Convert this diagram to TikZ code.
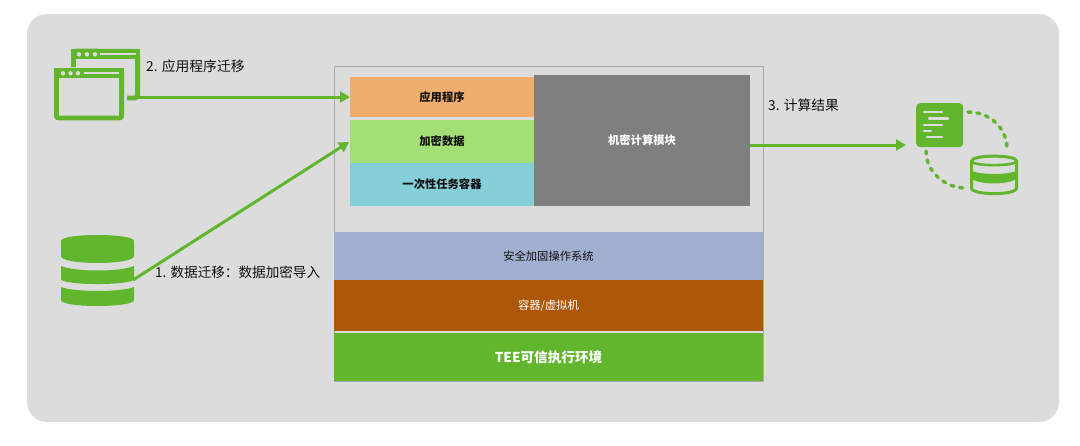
\documentclass[tikz,border=0pt]{standalone}
\usepackage{fontspec}
\setmainfont{Noto Sans CJK SC}
\usetikzlibrary{arrows.meta}
\definecolor{panel}{HTML}{DCDCDC}
\definecolor{grn}{HTML}{62B62E}
\definecolor{frameg}{HTML}{ABABAB}
\definecolor{orng}{HTML}{F0AD6E}
\definecolor{lgrn}{HTML}{A3DF77}
\definecolor{cyanb}{HTML}{85CFD8}
\definecolor{midg}{HTML}{7F7F7F}
\definecolor{slate}{HTML}{A1AFD0}
\definecolor{brwn}{HTML}{AD5709}
\definecolor{txt}{HTML}{111111}
\tikzset{
  layerbox/.style={anchor=north west,inner sep=0pt,outer sep=0pt,minimum width=#1},
  lbl/.style={font=\fontsize{11.3}{13}\selectfont,text=txt,inner sep=0pt},
  captxt/.style={font=\fontsize{13.8}{16}\selectfont,text=txt,inner sep=0pt,anchor=west},
  flow/.style={draw=grn,line width=3pt,-{Triangle[length=10pt,width=11pt]}},
  iconline/.style={draw=grn,line width=4.8pt,line join=round},
  dashy/.style={draw=grn,line width=3.5pt,line cap=round,dash pattern=on 3pt off 6pt},
  stripe/.style={draw=panel,line width=2.4pt,line cap=round}
}
\newcommand{\shifted}[2]{\raisebox{#1}[0pt][0pt]{#2}}
\begin{document}
\begin{tikzpicture}[x=1pt,y=-1pt]
\useasboundingbox (0,0) rectangle (1080,445);
\fill[white] (0,0) rectangle (1080,445);
\fill[panel,rounded corners=20pt] (27,14) rectangle (1059,422);
% frame
\node[draw=frameg,line width=1.1pt,anchor=north west,inner sep=0pt,minimum width=429pt,minimum height=315pt] (frame) at (334,66) {};
% inner stack
\node[fill=orng,layerbox=184pt,minimum height=40pt,lbl] (app) at (350,77) {\bfseries 应用程序};
\node[fill=lgrn,layerbox=184pt,minimum height=43pt,lbl] (data) at (350,120) {\bfseries 加密数据};
\node[fill=cyanb,layerbox=184pt,minimum height=43pt,lbl] (cont) at (350,163) {\bfseries 一次性任务容器};
\node[fill=midg,layerbox=216pt,minimum height=131pt,lbl,text=white] (conf) at (534,75) {\bfseries 机密计算模块};
% lower layers
\node[fill=slate,layerbox=429pt,minimum height=48pt,lbl] (os) at (334,232) {安全加固操作系统};
\node[fill=brwn,layerbox=429pt,minimum height=51pt,lbl,text=white] (vm) at (334,280) {容器/虚拟机};
\node[fill=grn,layerbox=429pt,minimum height=48pt,font=\fontsize{13.6}{16}\selectfont,text=white] (tee) at (334,333) {\bfseries TEE可信执行环境};
% windows icon
\draw[iconline] (73.4,67) -- (73.4,54) arc[start angle=180,end angle=90,radius=3pt] -- (134.6,51.4) arc[start angle=90,end angle=0,radius=3pt] -- (137.6,95) arc[start angle=0,end angle=-90,radius=3pt] -- (127,98);
\draw[iconline,rounded corners=2pt] (56.4,70.4) rectangle (121.6,118);
\fill[grn] (54,68) rectangle (124,78);
\fill[panel] (63,73.3) circle (2.2pt) (70.5,73.3) circle (2.2pt) (78,73.3) circle (2.2pt);
\fill[panel] (84,72.3) rectangle (119,74.3);
\fill[grn] (71,49) rectangle (140,59);
\fill[panel] (79,54.3) circle (2.2pt) (87,54.3) circle (2.2pt) (95,54.3) circle (2.2pt);
\fill[panel] (100,53.3) rectangle (136,55.3);
\coordinate (winout) at (137,97);
% database solid icon
\fill[grn] (61,241) .. controls (61,233) and (134,233) .. (134,241) -- (134,256) .. controls (134,265.3) and (61,265.3) .. (61,256) -- cycle;
\fill[grn] (61,266) .. controls (75,272) and (120,272) .. (134,266) -- (134,279) .. controls (134,285.7) and (61,285.7) .. (61,279) -- cycle;
\fill[grn] (61,287) .. controls (75,292.3) and (120,292.3) .. (134,287) -- (134,300) .. controls (134,308) and (61,308) .. (61,300) -- cycle;
\coordinate (dbout) at (133,280);
% doc icon
\node[fill=grn,rounded corners=4pt,anchor=north west,inner sep=0pt,minimum width=47pt,minimum height=44pt] (doc) at (916,103) {};
\draw[stripe] (924,112) -- (942,112);
\draw[stripe] (929,118.5) -- (948,118.5);
\draw[stripe] (924,125) -- (942,125);
\draw[stripe] (924,131) -- (931,131);
\draw[stripe] (927,137) -- (942,137);
% dashes
\draw[dashy] (968,112) .. controls (990,112) and (1007,128) .. (1007,149);
\draw[dashy] (926,151) .. controls (926,172) and (945,188) .. (966,188);
% outline cylinder
\draw[grn,line width=3pt] (971.5,161) .. controls (971.5,154.5) and (1016.5,154.5) .. (1016.5,161) -- (1016.5,188) .. controls (1016.5,195.5) and (971.5,195.5) .. (971.5,188) -- cycle;
\draw[grn,line width=2.6pt] (971.5,161) .. controls (971.5,166.5) and (1016.5,166.5) .. (1016.5,161);
\fill[grn] (971.5,171) .. controls (982,175) and (1006,175) .. (1016.5,171) -- (1016.5,179) .. controls (1006,185) and (982,185) .. (971.5,179) -- cycle;
\coordinate (res) at (906,145);
% connectors
\draw[flow] (winout) -- (app.west |- winout);
\draw[flow] (dbout) -- (349,142);
\draw[flow] (conf.east |- res) -- (res);
% captions
\node[captxt] (c2) at (146,66) {2. 应用程序迁移};
\node[captxt,font=\fontsize{13.6}{16}\selectfont] (c1) at (155,272.5) {1. 数据迁移：数据加密导入};
\node[captxt] (c3) at (768,105) {3. 计算结果};
\end{tikzpicture}
\end{document}
